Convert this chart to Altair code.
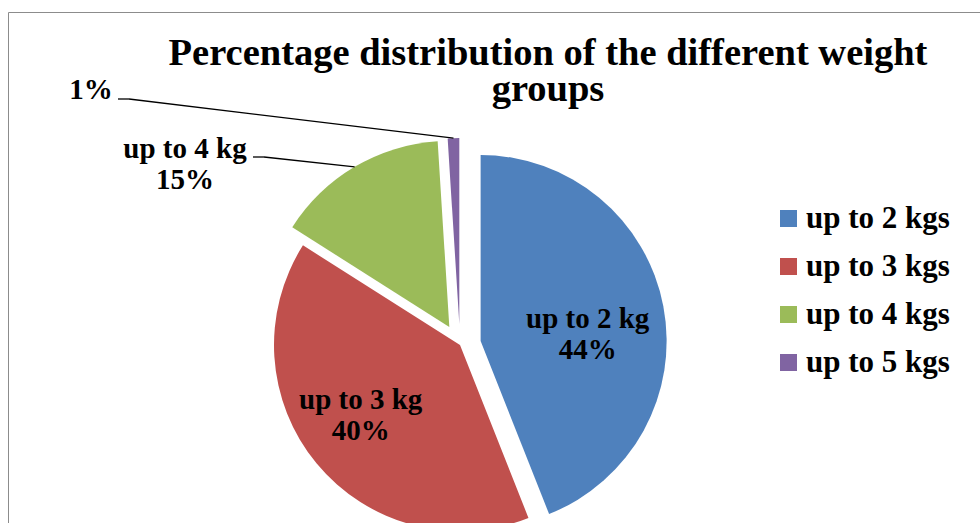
import altair as alt
import pandas as pd

# Weight groups: legend names, slice label names and their shares (%)
groups = ["up to 2 kgs", "up to 3 kgs", "up to 4 kgs", "up to 5 kgs"]
slice_names = ["up to 2 kg", "up to 3 kg", "up to 4 kg", ""]
shares = [44, 40, 15, 1]
colors = ["#4F81BD", "#C0504D", "#9BBB59", "#8064A2"]

TITLE = ["Percentage distribution of the different weight", "groups"]
FONT = "Liberation Serif"

# Pie geometry (pixels)
CX, CY, R = 460, 345, 186
explode = {"up to 2 kgs": 21, "up to 3 kgs": 0, "up to 4 kgs": 21, "up to 5 kgs": 21}

# Inside labels sit on the slice bisector, with a small nudge
LABEL_R = 112
inside_nudge = {"up to 2 kgs": (-3, 8), "up to 3 kgs": (-13, -7)}

# Outside labels: text anchor (centre of first baseline) and leader start
outside_text = {"up to 4 kgs": (185, 158), "up to 5 kgs": (91, 99)}
leader_start = {"up to 4 kgs": (253, 157), "up to 5 kgs": (118, 99)}
ELBOW = 11


def pick(mapping, idx=None, default=0):
    """Build a per-group lookup expression."""
    expr = ""
    for key, val in mapping.items():
        v = val if idx is None else val[idx]
        expr += f"datum.group === '{key}' ? {v} : "
    return expr + str(default)


table = pd.DataFrame(
    {
        "group": groups,
        "name": slice_names,
        "share": shares,
        "order": list(range(len(groups))),
    }
)

base = (
    alt.Chart(table)
    .transform_joinaggregate(total="sum(share)")
    .transform_window(cum="sum(share)", sort=[alt.SortField("order")])
    .transform_calculate(t0="2 * PI * (datum.cum - datum.share) / datum.total")
    .transform_calculate(t1="2 * PI * datum.cum / datum.total")
    .transform_calculate(mid="(datum.t0 + datum.t1) / 2")
    .transform_calculate(ex=pick(explode))
    .transform_calculate(cx=f"{CX} + datum.ex * sin(datum.mid)")
    .transform_calculate(cy=f"{CY} - datum.ex * cos(datum.mid)")
    .transform_calculate(
        label="datum.name ? datum.name + '\\n' + datum.share + '%' : datum.share + '%'"
    )
)

pie = base.mark_arc(radius=R).encode(
    x=alt.X("cx:Q", scale=None, axis=None),
    y=alt.Y("cy:Q", scale=None, axis=None),
    theta=alt.Theta("t0:Q", scale=None, stack=None),
    theta2=alt.Theta2("t1"),
    color=alt.Color(
        "group:N",
        scale=alt.Scale(domain=groups, range=colors),
        legend=alt.Legend(
            title=None,
            orient="none",
            legendX=773,
            legendY=203,
            padding=0,
            symbolType="square",
            symbolSize=289,
            symbolStrokeWidth=0,
            labelFont=FONT,
            labelFontSize=31,
            labelFontWeight="bold",
            labelColor="black",
            labelOffset=2,
            labelLimit=300,
            rowPadding=16,
        ),
    ),
)

text_style = dict(
    font=FONT,
    fontSize=29,
    fontWeight="bold",
    color="black",
    align="center",
    baseline="alphabetic",
    lineBreak="\n",
    lineHeight=31,
)

inside = (
    base.transform_filter(alt.FieldOneOfPredicate(field="group", oneOf=list(inside_nudge)))
    .transform_calculate(
        lx=f"datum.cx + {LABEL_R} * sin(datum.mid) + ({pick(inside_nudge, 0)})"
    )
    .transform_calculate(
        ly=f"datum.cy - {LABEL_R} * cos(datum.mid) + ({pick(inside_nudge, 1)})"
    )
    .mark_text(**text_style)
    .encode(
        x=alt.X("lx:Q", scale=None, axis=None),
        y=alt.Y("ly:Q", scale=None, axis=None),
        text="label:N",
    )
)

outside_base = (
    base.transform_filter(alt.FieldOneOfPredicate(field="group", oneOf=list(outside_text)))
    .transform_calculate(lx=pick(outside_text, 0))
    .transform_calculate(ly=pick(outside_text, 1))
    .transform_calculate(sx=pick(leader_start, 0))
    .transform_calculate(sy=pick(leader_start, 1))
    .transform_calculate(kx=f"datum.sx + {ELBOW}")
    .transform_calculate(px=f"datum.cx + {R} * sin(datum.mid)")
    .transform_calculate(py=f"datum.cy - {R} * cos(datum.mid)")
)

outside = outside_base.mark_text(**text_style).encode(
    x=alt.X("lx:Q", scale=None, axis=None),
    y=alt.Y("ly:Q", scale=None, axis=None),
    text="label:N",
)

leader_flat = outside_base.mark_rule(color="black", strokeWidth=1.3).encode(
    x=alt.X("sx:Q", scale=None, axis=None),
    x2=alt.X2("kx"),
    y=alt.Y("sy:Q", scale=None, axis=None),
    y2=alt.Y2("sy"),
)

leader_slant = outside_base.mark_rule(color="black", strokeWidth=1.3).encode(
    x=alt.X("kx:Q", scale=None, axis=None),
    x2=alt.X2("px"),
    y=alt.Y("sy:Q", scale=None, axis=None),
    y2=alt.Y2("py"),
)

title = (
    alt.Chart(pd.DataFrame({"t": ["\n".join(TITLE)]}))
    .mark_text(
        font=FONT,
        fontSize=38.5,
        fontWeight="bold",
        color="black",
        align="center",
        baseline="alphabetic",
        lineBreak="\n",
        lineHeight=36,
    )
    .encode(x=alt.value(548), y=alt.value(65), text="t:N")
)

# Chart frame (runs off the right and bottom edges)
frame = (
    alt.Chart(pd.DataFrame({"f": [0]}))
    .mark_rect(filled=False, stroke="#8c8c8c", strokeWidth=1)
    .encode(x=alt.value(8.5), y=alt.value(12.5), x2=alt.value(1400), y2=alt.value(1000))
)

chart = (
    alt.layer(frame, pie, leader_flat, leader_slant, inside, outside, title)
    .properties(
        width=980,
        height=523,
        padding=0,
        autosize=alt.AutoSizeParams(type="none"),
        background="white",
    )
    .configure_view(strokeWidth=0)
)

chart.save("out.html", embed_options={"renderer": "svg", "actions": False})
